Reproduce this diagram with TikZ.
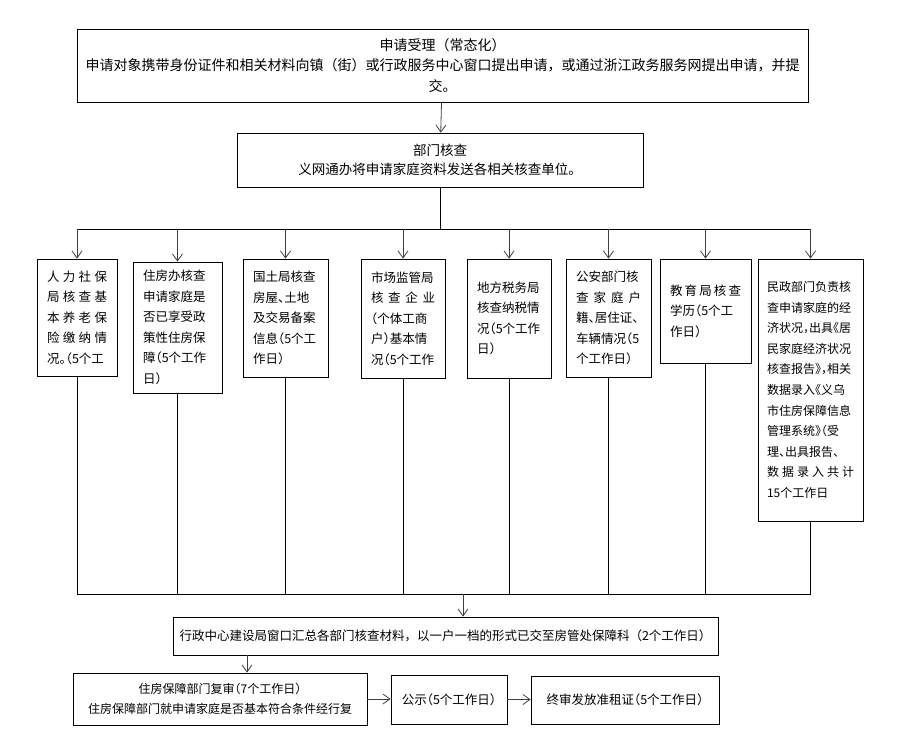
\documentclass[tikz,border=0pt]{standalone}
\usepackage{fontspec}
\setmainfont{Noto Sans CJK SC}
\newfontfamily\narrowcjk[RawFeature=+halt]{Noto Sans CJK SC}
\usetikzlibrary{arrows.meta}

\begin{document}
\begin{tikzpicture}[x=1pt,y=-1pt,
  box/.style={draw,line width=0.8pt,inner sep=0pt,align=center,font=\fontsize{12.5}{20.5}\selectfont},
  dept/.style={box,align=left,inner xsep=10pt,font=\narrowcjk\fontsize{12.5}{20.5}\selectfont},
  link/.style={line width=0.8pt},
  arr/.style={link,draw=black!75,-{Straight Barb[length=7pt,width=10pt]}}]
  \useasboundingbox (0,0) rectangle (904,755);

  % application and department check
  \node[box,minimum width=731pt,minimum height=73pt,font=\fontsize{14}{20.5}\selectfont] (apply) at (442.5,65.5)
    {申请受理（常态化）\\申请对象携带身份证件和相关材料向镇（街）或行政服务中心窗口提出申请，或通过浙江政务服务网提出申请，并提\\交。};
  \node[box,minimum width=406pt,minimum height=54pt,font=\fontsize{13.5}{19}\selectfont] (check) at (440,160)
    {部门核查\\义网通办将申请家庭资料发送各相关核查单位。};

  % checking units
  \node[dept,minimum width=80pt,minimum height=117pt,text width=60pt] (hr) at (77,317.5)
    {人\hfill 力\hfill 社\hfill 保\\局\hfill 核\hfill 查\hfill 基\\本\hfill 养\hfill 老\hfill 保\\险\hfill 缴\hfill 纳\hfill 情\\况。（5个工};
  \node[dept,minimum width=89pt,minimum height=131pt,text width=69pt] (house) at (177.5,327.5)
    {住房办核查\\申请家庭是\\否已享受政\\策性住房保\\障（5个工作\\日）};
  \node[dept,minimum width=85pt,minimum height=118pt,text width=65pt] (land) at (285.5,318)
    {国土局核查\\房屋、土地\\及交易备案\\信息（5个工\\作日）};
  \node[dept,minimum width=84pt,minimum height=119pt,text width=64pt] (market) at (403,318.5)
    {市场监管局\\核\hfill 查\hfill 企\hfill 业\\（个体工商\\户）基本情\\况（5个工作};
  \node[dept,minimum width=84pt,minimum height=119pt,text width=64pt] (tax) at (509,318.5)
    {地方税务局\\核查纳税情\\况（5个工作\\日）};
  \node[dept,minimum width=85pt,minimum height=118pt,text width=65pt] (police) at (608.5,318)
    {公安部门核\\查\hfill 家\hfill 庭\hfill 户\\籍、居住证、\\车辆情况（5\\个工作日）};
  \node[dept,minimum width=91pt,minimum height=104pt,text width=71pt] (edu) at (705.5,311)
    {教\hfill 育\hfill 局\hfill 核\hfill 查\\学历（5个工\\作日）};
  \node[dept,minimum width=105pt,minimum height=262pt,text width=87pt,inner xsep=9pt,font=\narrowcjk\fontsize{12}{20.6}\selectfont] (civil) at (810.5,390)
    {民政部门负责核\\查申请家庭的经\\济状况，出具《居\\民家庭经济状况\\核查报告》，相关\\数据录入《义乌\\市住房保障信息\\管理系统》（受\\理、出具报告、\\数\hfill 据\hfill 录\hfill 入\hfill 共\hfill 计\\15个工作日};

  % summary, review and result
  \node[box,minimum width=545pt,minimum height=38pt] (sum) at (445.5,636)
    {行政中心建设局窗口汇总各部门核查材料，以一户一档的形式已交至房管处保障科（2个工作日）};
  \node[box,minimum width=294pt,minimum height=52pt,font=\narrowcjk\fontsize{12}{20}\selectfont] (review) at (220,699)
    {住房保障部门复审（7个工作日）\\住房保障部门就申请家庭是否基本符合条件经行复};
  \node[box,minimum width=116pt,minimum height=49pt,font=\narrowcjk\fontsize{12.5}{20}\selectfont] (notice) at (449,699.5)
    {公示（5个工作日）};
  \node[box,minimum width=188pt,minimum height=48pt,font=\narrowcjk\fontsize{12.5}{20}\selectfont] (final) at (625,700)
    {终审发放准租证（5个工作日）};

  % connectors
  \draw[arr] (apply) -- (check);
  \coordinate (split) at (440,229);
  \draw[link] (check) -- (split);
  \draw[link] (hr.north |- split) -- (civil.north |- split);
  \foreach \d in {hr,house,land,market,tax,police,edu,civil}
    \draw[arr] (\d.north |- split) -- (\d);

  \coordinate (merge) at (463,594);
  \foreach \d in {hr,house,land,market,tax,police,edu,civil}
    \draw[link] (\d) -- (\d.south |- merge);
  \draw[link] (hr.south |- merge) -- (civil.south |- merge);
  \draw[arr] (merge) -- (merge |- sum.north);

  \coordinate (down) at (247,655);
  \draw[arr] (sum.south -| down) -- (review.north -| down);
  \draw[arr] (review.east) -- (review.east -| notice.west);
  \draw[arr] (notice.east) -- (notice.east -| final.west);
\end{tikzpicture}
\end{document}
